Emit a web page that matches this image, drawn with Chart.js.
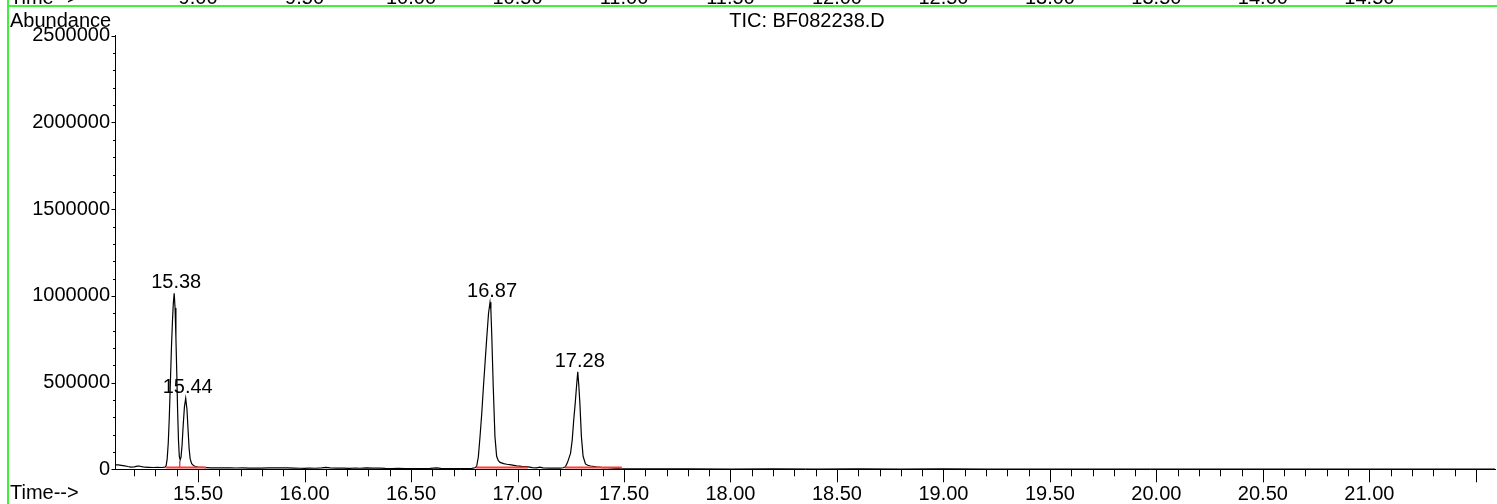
<!DOCTYPE html>
<html>
<head>
<meta charset="utf-8">
<script src="https://cdn.jsdelivr.net/npm/chart.js@4.4.0/dist/chart.umd.min.js"></script>
<style>
  html, body { margin: 0; padding: 0; background: #fff; }
  canvas { display: block; }
</style>
</head>
<body>
<canvas id="tic" width="1497" height="504"></canvas>
<script>
// retention time (min) and abundance
const times = [
  15.110, 15.125, 15.140, 15.155, 15.170, 15.185, 15.200, 15.215, 15.225, 15.235,
  15.250, 15.270, 15.290, 15.310, 15.330, 15.345, 15.350, 15.355, 15.360, 15.365,
  15.370, 15.375, 15.380, 15.384, 15.388, 15.392, 15.396, 15.400, 15.404, 15.408,
  15.412, 15.416, 15.420, 15.425, 15.430, 15.436, 15.442, 15.448, 15.453, 15.458,
  15.463, 15.470, 15.480, 15.490, 15.500, 15.520, 15.540, 15.560, 15.590, 15.620,
  15.650, 15.680, 15.710, 15.740, 15.770, 15.800, 15.830, 15.860, 15.890, 15.920,
  15.950, 15.980, 16.000, 16.020, 16.050, 16.080, 16.100, 16.120, 16.150, 16.180,
  16.210, 16.240, 16.260, 16.290, 16.320, 16.350, 16.380, 16.410, 16.440, 16.470,
  16.500, 16.530, 16.560, 16.590, 16.620, 16.640, 16.670, 16.700, 16.730, 16.760,
  16.785, 16.800, 16.808, 16.816, 16.824, 16.832, 16.840, 16.848, 16.856, 16.864,
  16.871, 16.875, 16.879, 16.886, 16.894, 16.902, 16.910, 16.918, 16.935, 16.950,
  16.970, 16.996, 17.020, 17.043, 17.070, 17.090, 17.105, 17.120, 17.150, 17.180,
  17.200, 17.215, 17.225, 17.235, 17.249, 17.257, 17.264, 17.271, 17.277, 17.283,
  17.288, 17.293, 17.300, 17.308, 17.319, 17.330, 17.343, 17.370, 17.400, 17.420,
  17.450, 17.480, 17.520, 17.600, 17.800, 18.000, 18.200, 18.400, 18.600, 18.800,
  19.000, 19.200, 19.400, 19.600, 19.800, 20.000, 20.200, 20.400, 20.600, 20.800,
  21.000, 21.200, 21.400, 21.590
];
const abundance = [
  26000, 25000, 23000, 20000, 16000, 13000, 14000, 18000, 19000, 15000,
  12000, 11500, 10500, 11000, 10500, 12000, 20000, 60000, 150000, 300000,
  500000, 700000, 860000, 960000, 1015000, 930000, 760000, 560000, 340000, 170000,
  75000, 55000, 70000, 140000, 250000, 360000, 409000, 345000, 230000, 120000,
  60000, 32000, 20000, 15000, 13000, 11000, 9500, 8500, 9000, 8000,
  8500, 7500, 8000, 7000, 7500, 7000, 8000, 9000, 8000, 8500,
  7000, 6000, 5000, 6500, 6000, 8000, 11000, 8000, 6500, 7000,
  5500, 7500, 6000, 8000, 6500, 7000, 5000, 4500, 5500, 4500,
  4000, 4500, 4000, 5000, 8000, 5500, 4500, 4000, 4500, 4000,
  5000, 9000, 16000, 70000, 188000, 320000, 476000, 620000, 765000, 900000,
  963000, 920000, 780000, 480000, 190000, 75000, 50000, 40000, 33000, 29000,
  25000, 20000, 17000, 15000, 10000, 8000, 12000, 8000, 7000, 7500,
  7000, 9000, 15000, 40000, 92000, 170000, 284000, 380000, 476000, 563000,
  480000, 380000, 190000, 75000, 31000, 23000, 19000, 14000, 10000, 9000,
  6000, 4000, 2500, 2000, 2200, 1800, 2000, 1800, 2000, 1700,
  1900, 1700, 1800, 1600, 1700, 1600, 1700, 1500, 1600, 1500,
  1600, 1500, 1500, 1500
];

// integrated peaks
const peakLabels = ['15.38', '15.44', '16.87', '17.28'];
const peakApexTime = [15.388, 15.442, 16.871, 17.283];
const peakApexValue = [1015000, 409000, 963000, 563000];

// red integration baselines
const baseStart = [15.350, 16.805, 17.223];
const baseEnd = [15.538, 17.049, 17.490];
const baseLevel = 10000;
const dropTime = 15.414;
const dropTop = 48000;

const xTickValues = [15.5, 16, 16.5, 17, 17.5, 18, 18.5, 19, 19.5, 20, 20.5, 21, 21.5];
const xTickLabels = ['15.50', '16.00', '16.50', '17.00', '17.50', '18.00', '18.50',
  '19.00', '19.50', '20.00', '20.50', '21.00', ''];
const yTickValues = [0, 500000, 1000000, 1500000, 2000000, 2500000];
const yTickLabels = ['0', '500000', '1000000', '1500000', '2000000', '2500000'];
// axis of the panel above, cut off at the top edge
const upperTickLabels = ['9.00', '9.50', '10.00', '10.50', '11.00', '11.50',
  '12.00', '12.50', '13.00', '13.50', '14.00', '14.50'];

const FONT = '20px "Liberation Sans", Arial, sans-serif';

const trace = times.map((t, i) => ({ x: t, y: abundance[i] }));

const redSets = baseStart.map((s, i) => ({
  data: [{ x: s, y: baseLevel }, { x: baseEnd[i], y: baseLevel }],
  borderColor: '#ff3b3b',
  borderWidth: 2,
  pointRadius: 0,
  order: 0
}));
redSets.push({
  data: [{ x: dropTime, y: baseLevel }, { x: dropTime, y: dropTop }],
  borderColor: '#ff3b3b',
  borderWidth: 1.5,
  pointRadius: 0,
  order: 0
});

const decorations = {
  id: 'decorations',
  afterDraw(chart) {
    const { ctx, scales: { x, y } } = chart;
    const bottom = y.getPixelForValue(0);
    const left = x.left;
    ctx.save();

    // tick marks
    ctx.strokeStyle = '#000';
    ctx.lineWidth = 1;
    ctx.beginPath();
    for (let k = 152; k <= 215; k++) {
      const px = Math.round(x.getPixelForValue(k / 10)) + 0.5;
      ctx.moveTo(px, bottom);
      ctx.lineTo(px, bottom + (k % 5 === 0 ? 13 : 7));
    }
    for (let k = 0; k <= 25; k++) {
      const py = Math.round(y.getPixelForValue(k * 100000)) + 0.5;
      ctx.moveTo(left + 0.5, py);
      ctx.lineTo(left + 0.5 - (k % 5 === 0 ? 4 : 2.5), py);
    }
    ctx.stroke();

    // green panel frame
    ctx.strokeStyle = '#3ff03f';
    ctx.lineWidth = 2;
    ctx.beginPath();
    ctx.moveTo(8, 0);
    ctx.lineTo(8, 504);
    ctx.moveTo(8, 6);
    ctx.lineTo(1497, 6);
    ctx.stroke();

    ctx.font = FONT;
    ctx.fillStyle = '#000';
    ctx.textBaseline = 'alphabetic';

    // cut-off axis of the upper panel
    ctx.textAlign = 'left';
    ctx.fillText('Time-->', 10, 4);
    ctx.textAlign = 'center';
    upperTickLabels.forEach((lab, i) => {
      ctx.fillText(lab, x.getPixelForValue(xTickValues[i]), 4);
    });

    ctx.textAlign = 'left';
    ctx.fillText('Abundance', 10, 27);
    ctx.fillText('Time-->', 10, 499);
    ctx.textAlign = 'center';
    ctx.fillText('TIC: BF082238.D', (x.left + x.right) / 2 + 2, 27);

    peakLabels.forEach((lab, i) => {
      const px = x.getPixelForValue(peakApexTime[i]);
      const py = y.getPixelForValue(peakApexValue[i]);
      ctx.fillText(lab, px + 2, py - 5);
    });
    ctx.restore();
  }
};

new Chart(document.getElementById('tic'), {
  type: 'line',
  data: {
    datasets: [
      {
        data: trace,
        borderColor: '#000',
        borderWidth: 1.2,
        pointRadius: 0,
        tension: 0,
        order: 1
      },
      ...redSets
    ]
  },
  options: {
    responsive: false,
    animation: false,
    devicePixelRatio: 1,
    layout: { padding: { top: 35.8, right: 2, left: 0, bottom: 0 } },
    plugins: {
      legend: { display: false },
      tooltip: { enabled: false },
      title: { display: false }
    },
    scales: {
      x: {
        type: 'linear',
        min: 15.11,
        max: 21.59,
        afterBuildTicks: s => { s.ticks = xTickValues.map(v => ({ value: v })); },
        afterFit: s => { s.height = 34.7; },
        grid: { display: false, drawTicks: false },
        border: { display: true, color: '#000', width: 1 },
        ticks: {
          autoSkip: false,
          maxRotation: 0,
          padding: 13,
          color: '#000',
          font: { family: '"Liberation Sans", Arial, sans-serif', size: 20 },
          callback: (v, i) => xTickLabels[i]
        }
      },
      y: {
        type: 'linear',
        min: 0,
        max: 2500000,
        afterBuildTicks: s => { s.ticks = yTickValues.map(v => ({ value: v })); },
        afterFit: s => { s.width = 115; },
        grid: { display: false, drawTicks: false },
        border: { display: true, color: '#000', width: 1 },
        ticks: {
          padding: 5,
          color: '#000',
          font: { family: '"Liberation Sans", Arial, sans-serif', size: 20 },
          callback: (v, i) => yTickLabels[i]
        }
      }
    }
  },
  plugins: [decorations]
});
</script>
</body>
</html>
